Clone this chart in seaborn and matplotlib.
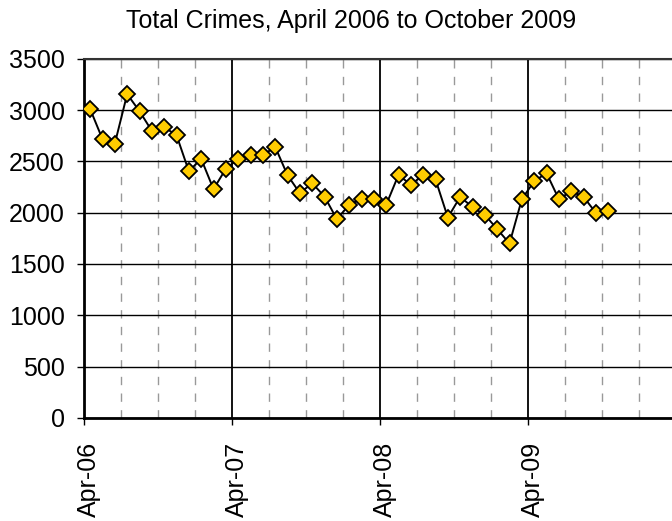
import numpy as np
import pandas as pd
import matplotlib.pyplot as plt
import matplotlib.transforms as mtransforms
import seaborn as sns

# monthly totals, April 2006 .. October 2009
crimes = [3010, 2717, 2674, 3156, 2990, 2798, 2834, 2756, 2405, 2525,
          2230, 2428, 2525, 2561, 2561, 2642, 2366, 2191, 2288, 2158,
          1937, 2077, 2135, 2135, 2077, 2369, 2272, 2369, 2324, 1953,
          2155, 2054, 1979, 1840, 1700, 2132, 2307, 2386, 2132, 2210,
          2155, 1999, 2015]
year_labels = ['Apr-06', 'Apr-07', 'Apr-08', 'Apr-09']
title = 'Total Crimes, April 2006 to October 2009'

# month index counted from April 2006, points sit mid-month
df = pd.DataFrame({'month': np.arange(len(crimes)) + 0.5, 'crimes': crimes})

sns.set_style('white')
plt.rcParams['font.family'] = ['Liberation Sans', 'DejaVu Sans']
plt.rcParams['text.color'] = 'black'

fig = plt.figure(figsize=(6.72, 5.21), dpi=100)
ax = fig.add_axes([0.125, 0.198, 1.006 - 0.125, 0.887 - 0.198])

sns.lineplot(data=df, x='month', y='crimes', ax=ax, color='black', lw=1.4,
             marker='D', markersize=8, markerfacecolor='#FFCC00',
             markeredgecolor='black', markeredgewidth=1.3, zorder=5)

ax.set_xlim(0, 48)
ax.set_ylim(0, 3500)
ax.set_yticks(range(0, 3501, 500))
ax.set_xticks([0, 12, 24, 36])
ax.set_xticklabels(year_labels, rotation=90)
ax.set_xticks(range(3, 48, 3), minor=True)
ax.set_xlabel('')
ax.set_ylabel('')

ax.grid(axis='y', color='black', lw=1.0)
ax.grid(axis='x', which='major', color='black', lw=1.3)
ax.grid(axis='x', which='minor', color='#999999', lw=1.0, ls=(0, (6, 6)))
ax.set_axisbelow(True)

ax.tick_params(axis='both', which='major', labelsize=18, length=5,
               width=1.0, color='black', labelcolor='black', direction='out')
ax.tick_params(axis='y', pad=9, left=True)
ax.tick_params(axis='x', pad=12, bottom=True)
ax.tick_params(axis='x', which='minor', length=0)

# excel puts the rotated labels a little right of the tick
shift = mtransforms.ScaledTranslation(5 / 100, 0, fig.dpi_scale_trans)
for lab in ax.get_xticklabels():
    lab.set_transform(lab.get_transform() + shift)

for side in ['left', 'bottom']:
    ax.spines[side].set_color('black')
    ax.spines[side].set_linewidth(2)
ax.spines['top'].set_color('#333333')
ax.spines['top'].set_linewidth(1.5)
ax.spines['right'].set_visible(False)

fig.text(0.523, 1 - 28 / 521, title, ha='center', va='baseline', fontsize=18)

fig.savefig('out.png', dpi=100)
